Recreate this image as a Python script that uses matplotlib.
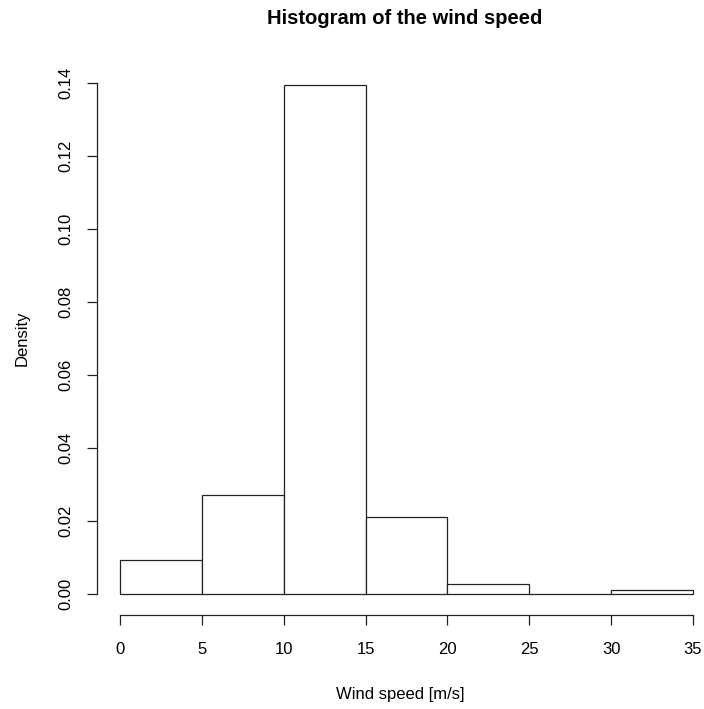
import matplotlib
matplotlib.use('agg')
from matplotlib import pyplot as plt

plt.rcParams['font.family'] = ['Liberation Sans', 'DejaVu Sans']

# histogram data (density per 5 m/s bin)
bin_edges = [0, 5, 10, 15, 20, 25, 30, 35]
density = [0.0092, 0.0270, 0.1395, 0.0210, 0.0028, 0.0, 0.0010]
x_ticks = [0, 5, 10, 15, 20, 25, 30, 35]
y_ticks = [0.00, 0.02, 0.04, 0.06, 0.08, 0.10, 0.12, 0.14]

fig = plt.figure(figsize=(7.04, 7.09), dpi=100)
ax = fig.add_axes([97 / 704, (709 - 614.5) / 709, 607 / 704, 552 / 709])

lefts = bin_edges[:-1]
widths = [b - a for a, b in zip(bin_edges[:-1], bin_edges[1:])]
ax.bar(lefts, density, width=widths, align='edge', facecolor='white',
       edgecolor='#222222', linewidth=0.9)

ax.set_xlim(-1.4, 35.67)
ax.set_ylim(-0.0056, 0.1456)

for s in ['top', 'right']:
    ax.spines[s].set_visible(False)
ax.spines['left'].set_bounds(0, 0.14)
ax.spines['bottom'].set_bounds(0, 35)
for s in ['left', 'bottom']:
    ax.spines[s].set_linewidth(0.9)
    ax.spines[s].set_color('#222222')

ax.set_xticks(x_ticks)
ax.set_xticklabels([str(v) for v in x_ticks])
ax.set_yticks(y_ticks)
ax.set_yticklabels([f'{v:.2f}' for v in y_ticks], rotation=90, va='center')
ax.tick_params(axis='x', length=7.5, width=0.9, pad=12, labelsize=12, color='#222222')
ax.tick_params(axis='y', length=7, width=0.9, pad=10, labelsize=12, color='#222222')

ax.set_xlabel('Wind speed [m/s]', fontsize=12, labelpad=22)
ax.set_ylabel('Density', fontsize=12, labelpad=21)
fig.suptitle('Histogram of the wind speed', fontsize=14.5, fontweight='bold',
             x=405 / 704, y=1 - 18 / 709, va='center')

plt.savefig('out.png', dpi=100)
